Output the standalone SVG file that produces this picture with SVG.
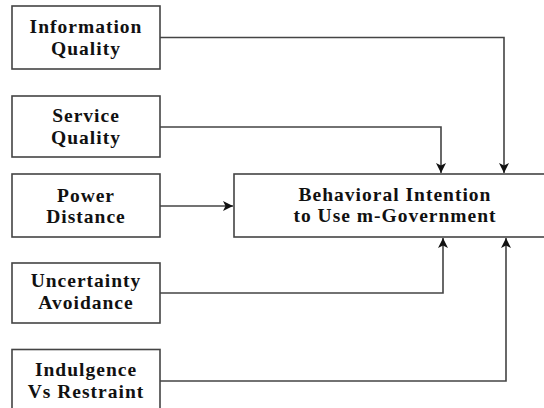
<svg xmlns="http://www.w3.org/2000/svg" width="544" height="408" viewBox="0 0 544 408">
<style>
.box{fill:#fff;stroke:#444;stroke-width:1.6}
.t{font-family:"Liberation Serif","Times New Roman",serif;font-weight:bold;font-size:19.5px;letter-spacing:1px;fill:#111;text-anchor:middle}
.c{fill:none;stroke:#444;stroke-width:1.6}
</style>
<defs>
<marker id="ah" viewBox="0 0 10 10" refX="10" refY="5" markerWidth="10" markerHeight="10" markerUnits="userSpaceOnUse" orient="auto">
<path d="M0,0 L10,5 L0,10 L2.5,5 Z" fill="#111"/>
</marker>
</defs>
<rect width="544" height="408" fill="#fff"/>
<g id="connectors">
<path class="c" d="M160,37.5 H504 V173" marker-end="url(#ah)"/>
<path class="c" d="M160,127 H441 V173" marker-end="url(#ah)"/>
<path class="c" d="M160,206 H233" marker-end="url(#ah)"/>
<path class="c" d="M160,293 H443 V238" marker-end="url(#ah)"/>
<path class="c" d="M160,381 H506 V238" marker-end="url(#ah)"/>
</g>
<g id="info">
<rect class="box" x="12" y="6" width="148" height="63"/>
<text class="t" x="86" y="33.2">Information<tspan x="86" dy="21.6">Quality</tspan></text>
</g>
<g id="service">
<rect class="box" x="12" y="96" width="148" height="61"/>
<text class="t" x="86" y="122.2">Service<tspan x="86" dy="21.6">Quality</tspan></text>
</g>
<g id="power">
<rect class="box" x="12" y="174" width="148" height="63"/>
<text class="t" x="86" y="201.5">Power<tspan x="86" dy="21.6">Distance</tspan></text>
</g>
<g id="uncertainty">
<rect class="box" x="12" y="263" width="148" height="60"/>
<text class="t" x="86" y="287.2">Uncertainty<tspan x="86" dy="21.6">Avoidance</tspan></text>
</g>
<g id="indulgence">
<rect class="box" x="12" y="349.5" width="148" height="70"/>
<text class="t" x="86" y="376.2">Indulgence<tspan x="86" dy="21.6">Vs Restraint</tspan></text>
</g>
<g id="bi">
<rect class="box" x="234" y="174" width="330" height="63"/>
<text class="t" x="395" y="200.5">Behavioral Intention<tspan x="395" dy="21.6">to Use m-Government</tspan></text>
</g>
</svg>
